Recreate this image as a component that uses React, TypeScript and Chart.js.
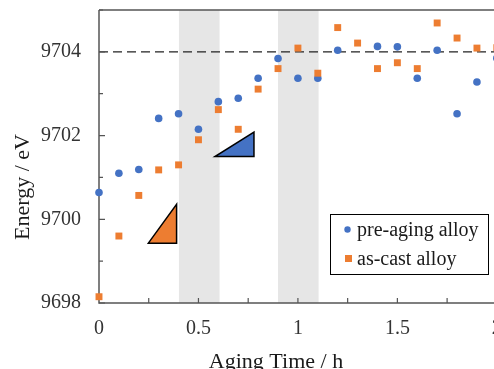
import React, { useEffect, useRef } from 'react';
import { Chart, registerables } from 'chart.js';

Chart.register(...registerables);

// ---------- data ----------
const agingTimes = [0, 0.1, 0.2, 0.3, 0.4, 0.5, 0.6, 0.7, 0.8, 0.9, 1.0, 1.1, 1.2, 1.3, 1.4, 1.5, 1.6, 1.7, 1.8, 1.9, 2.0];
const preAgingEnergy: (number | null)[] = [
  9700.64, 9701.10, 9701.19, 9702.41, 9702.52, 9702.15, 9702.81, 9702.89, 9703.37, 9703.84,
  9703.37, 9703.37, 9704.04, null, 9704.13, 9704.12, 9703.37, 9704.04, 9702.52, 9703.28, 9703.85,
];
const asCastEnergy: number[] = [
  9698.15, 9699.60, 9700.57, 9701.18, 9701.30, 9701.90, 9702.62, 9702.15, 9703.11, 9703.60,
  9704.09, 9703.49, 9704.58, 9704.21, 9703.60, 9703.74, 9703.60, 9704.69, 9704.33, 9704.09, 9704.10,
];
const seriesNames = ['pre-aging alloy', 'as-cast alloy'];
const xTickValues = [0, 0.25, 0.5, 0.75, 1, 1.25, 1.5, 1.75, 2];
const xTickLabels = ['0', '', '0.5', '', '1', '', '1.5', '', '2'];
const yTickValues = [9698, 9699, 9700, 9701, 9702, 9703, 9704, 9705];
const yTickLabels = ['9698', '', '9700', '', '9702', '', '9704', ''];
const shadedBands: [number, number][] = [[0.402, 0.606], [0.9, 1.104]];
const referenceEnergy = 9704;
// slope triangles: [x, y] vertices
const orangeTriangle: [number, number][] = [[0.248, 9699.43], [0.39, 9699.43], [0.39, 9700.36]];
const blueTriangle: [number, number][] = [[0.583, 9701.50], [0.779, 9701.50], [0.779, 9702.08]];
const xAxisTitle = 'Aging Time / h';
const yAxisTitle = 'Energy / eV';

const BLUE = '#4472C4';
const ORANGE = '#ED7D31';
const AXIS = '#555555';
const FONT = "'Liberation Serif', 'Times New Roman', serif";

const decorPlugin = {
  id: 'decor',
  beforeDatasetsDraw(chart: any) {
    const { ctx, chartArea: a, scales } = chart;
    const xs = scales.x, ys = scales.y;
    ctx.save();
    // shaded bands
    ctx.fillStyle = '#E6E6E6';
    for (const [s, e] of shadedBands) {
      const x0 = xs.getPixelForValue(s), x1 = xs.getPixelForValue(e);
      ctx.fillRect(x0, a.top, x1 - x0, a.bottom - a.top);
    }
    // reference dashed line
    const yr = ys.getPixelForValue(referenceEnergy);
    ctx.strokeStyle = '#222222';
    ctx.lineWidth = 1.3;
    ctx.setLineDash([9, 5]);
    ctx.beginPath();
    ctx.moveTo(a.left, yr);
    ctx.lineTo(a.right, yr);
    ctx.stroke();
    ctx.setLineDash([]);
    // axes + top border
    ctx.strokeStyle = AXIS;
    ctx.lineWidth = 1.5;
    ctx.beginPath();
    ctx.moveTo(a.left, a.top);
    ctx.lineTo(a.right, a.top);
    ctx.moveTo(a.left, a.top);
    ctx.lineTo(a.left, a.bottom);
    ctx.lineTo(a.right, a.bottom);
    ctx.stroke();
    // inward tick marks
    ctx.lineWidth = 1.2;
    ctx.beginPath();
    for (const t of ys.ticks) {
      const py = ys.getPixelForValue(t.value);
      const len = Math.round(t.value) % 2 === 0 ? 6 : 4;
      ctx.moveTo(a.left, py);
      ctx.lineTo(a.left + len, py);
    }
    for (const t of xs.ticks) {
      if (t.value <= 0) continue;
      const px = xs.getPixelForValue(t.value);
      ctx.moveTo(px, a.bottom);
      ctx.lineTo(px, a.bottom - 5);
    }
    ctx.stroke();
    ctx.restore();
  },
  afterDatasetsDraw(chart: any) {
    const { ctx, scales } = chart;
    const xs = scales.x, ys = scales.y;
    ctx.save();
    // triangles
    const tri = (pts: [number, number][], fill: string) => {
      ctx.beginPath();
      pts.forEach(([vx, vy], i) => {
        const px = xs.getPixelForValue(vx), py = ys.getPixelForValue(vy);
        if (i === 0) ctx.moveTo(px, py); else ctx.lineTo(px, py);
      });
      ctx.closePath();
      ctx.fillStyle = fill;
      ctx.fill();
      ctx.strokeStyle = '#000000';
      ctx.lineWidth = 1.5;
      ctx.lineJoin = 'miter';
      ctx.stroke();
    };
    tri(orangeTriangle, ORANGE);
    tri(blueTriangle, BLUE);

    // legend box
    ctx.fillStyle = '#FFFFFF';
    ctx.fillRect(330, 214, 158, 60);
    ctx.strokeStyle = '#000000';
    ctx.lineWidth = 1;
    ctx.strokeRect(330.5, 214.5, 158, 60);
    ctx.fillStyle = BLUE;
    ctx.beginPath();
    ctx.arc(347.5, 229.5, 3.2, 0, Math.PI * 2);
    ctx.fill();
    ctx.fillStyle = ORANGE;
    ctx.fillRect(345, 255, 7, 7);
    ctx.fillStyle = '#1a1a1a';
    ctx.font = `20px ${FONT}`;
    ctx.textAlign = 'left';
    ctx.textBaseline = 'alphabetic';
    ctx.fillText(seriesNames[0], 357, 236);
    ctx.fillText(seriesNames[1], 357, 265);

    // axis titles
    ctx.font = `22px ${FONT}`;
    ctx.fillStyle = '#1a1a1a';
    ctx.textAlign = 'center';
    ctx.fillText(xAxisTitle, 276, 368);
    ctx.save();
    ctx.translate(29, 187);
    ctx.rotate(-Math.PI / 2);
    ctx.fillText(yAxisTitle, 0, 0);
    ctx.restore();
    ctx.restore();
  },
};

const zeroPadding = (s: any) => {
  s.paddingTop = 0;
  s.paddingBottom = 0;
  s.paddingLeft = 0;
  s.paddingRight = 0;
};

export default function App() {
  const canvasRef = useRef<HTMLCanvasElement | null>(null);

  useEffect(() => {
    if (!canvasRef.current) return;
    const preData = agingTimes
      .map((t, i) => ({ x: t, y: preAgingEnergy[i] }))
      .filter((p) => p.y !== null) as { x: number; y: number }[];
    const castData = agingTimes.map((t, i) => ({ x: t, y: asCastEnergy[i] }));

    const chart = new Chart(canvasRef.current, {
      type: 'scatter',
      data: {
        datasets: [
          {
            label: seriesNames[1],
            data: castData,
            pointStyle: 'rect',
            pointRadius: 4.9,
            backgroundColor: ORANGE,
            borderColor: ORANGE,
            borderWidth: 0,
            clip: false as any,
          },
          {
            label: seriesNames[0],
            data: preData,
            pointStyle: 'circle',
            pointRadius: 3.8,
            backgroundColor: BLUE,
            borderColor: BLUE,
            borderWidth: 0,
            clip: false as any,
          },
        ],
      },
      options: {
        animation: false,
        responsive: false,
        maintainAspectRatio: false,
        layout: { padding: { top: 10, left: 0, right: 0, bottom: 0 } },
        plugins: { legend: { display: false }, tooltip: { enabled: false } },
        scales: {
          x: {
            type: 'linear',
            min: 0,
            max: 2.127,
            afterBuildTicks: (s: any) => { s.ticks = xTickValues.map((v) => ({ value: v })); },
            afterFit: (s: any) => { s.height = 97; zeroPadding(s); },
            grid: { display: false, drawTicks: false },
            border: { display: false },
            ticks: {
              autoSkip: false,
              maxRotation: 0,
              minRotation: 0,
              padding: 14,
              color: '#333333',
              font: { family: FONT, size: 20 },
              callback: (_v: any, i: number) => xTickLabels[i] ?? '',
            },
          },
          y: {
            type: 'linear',
            min: 9698,
            max: 9705,
            afterBuildTicks: (s: any) => { s.ticks = yTickValues.map((v) => ({ value: v })); },
            afterFit: (s: any) => { s.width = 99; zeroPadding(s); },
            grid: { display: false, drawTicks: false },
            border: { display: false },
            ticks: {
              autoSkip: false,
              padding: 18,
              color: '#333333',
              font: { family: FONT, size: 20 },
              callback: (_v: any, i: number) => yTickLabels[i] ?? '',
            },
          },
        },
      },
      plugins: [decorPlugin],
    });
    return () => chart.destroy();
  }, []);

  return (
    <div style={{ position: 'fixed', left: 0, top: 0, width: 527, height: 400, background: '#ffffff' }}>
      <canvas ref={canvasRef} width={527} height={400} style={{ display: 'block' }} />
    </div>
  );
}
